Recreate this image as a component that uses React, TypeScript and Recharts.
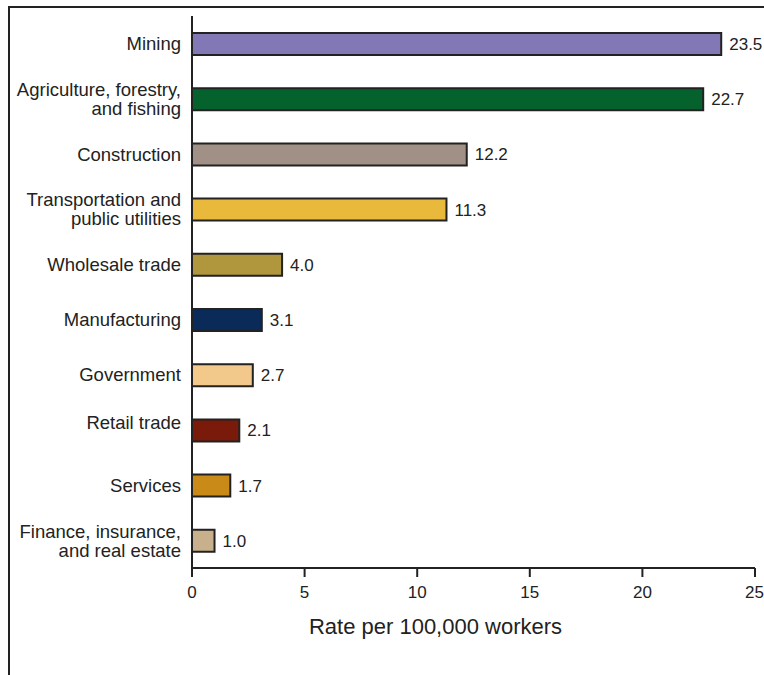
import { BarChart, Bar, XAxis, YAxis, Cell, LabelList } from 'recharts';

const industries = [
  'Mining',
  'Agriculture, forestry,|and fishing',
  'Construction',
  'Transportation and|public utilities',
  'Wholesale trade',
  'Manufacturing',
  'Government',
  'Retail trade',
  'Services',
  'Finance, insurance,|and real estate',
];
const rates = [23.5, 22.7, 12.2, 11.3, 4.0, 3.1, 2.7, 2.1, 1.7, 1.0];
const barColors = [
  '#8378b6', '#05622c', '#a09085', '#e8b93a', '#b0963c',
  '#0a2a5a', '#f2c98a', '#7a1a0a', '#c98a17', '#c8b08c',
];
const xTicks = [0, 5, 10, 15, 20, 25];

const FONT = '"Liberation Sans", Arial, Helvetica, sans-serif';
const LINE_H = 19;

const data = industries.map((name, i) => ({ name, rate: rates[i] }));

const IndustryTick = ({ x, y, payload }: any) => {
  const lines = String(payload.value).split('|');
  // the retail label sits a little above its bar in the original
  const shift = payload.value === 'Retail trade' ? -8 : 0;
  const start = -((lines.length - 1) * LINE_H) / 2 + shift;
  return (
    <text x={x} y={y} textAnchor="end" fill="#222" fontSize={18.5} fontFamily={FONT}>
      {lines.map((line, i) => (
        <tspan key={i} x={x} y={y + start + i * LINE_H} dy="0.36em">{line}</tspan>
      ))}
    </text>
  );
};

export default function App() {
  return (
    <div style={{ position: 'absolute', left: 0, top: 0, width: 764, height: 675, background: '#fff' }}>
      <div style={{ position: 'absolute', left: 8, top: 6, width: 2, height: 669, background: '#222' }} />
      <div style={{ position: 'absolute', left: 8, top: 6, width: 756, height: 2, background: '#222' }} />
      <BarChart
        width={764}
        height={675}
        data={data}
        layout="vertical"
        margin={{ top: 16, right: 9, left: 8, bottom: 41 }}
        barCategoryGap={0}
      >
        <XAxis
          type="number"
          domain={[0, 25]}
          ticks={xTicks}
          height={66}
          tickSize={9}
          tickMargin={9}
          stroke="#222"
          strokeWidth={2}
          tick={{ fill: '#222', fontSize: 17, fontFamily: FONT }}
          label={{ value: 'Rate per 100,000 workers', position: 'insideBottom', offset: 0, dx: -38, fill: '#222', fontSize: 22, fontFamily: FONT }}
        />
        <YAxis
          type="category"
          dataKey="name"
          width={184}
          tickLine={false}
          stroke="#222"
          strokeWidth={2}
          tick={<IndustryTick />}
          tickMargin={5}
        />
        <Bar dataKey="rate" barSize={22} stroke="#222" strokeWidth={2} isAnimationActive={false}>
          {data.map((d, i) => (
            <Cell key={d.name} fill={barColors[i]} />
          ))}
          <LabelList
            dataKey="rate"
            position="right"
            offset={8}
            formatter={(v: any) => Number(v).toFixed(1)}
            style={{ fill: '#222', fontSize: 17, fontFamily: FONT }}
          />
        </Bar>
      </BarChart>
    </div>
  );
}
